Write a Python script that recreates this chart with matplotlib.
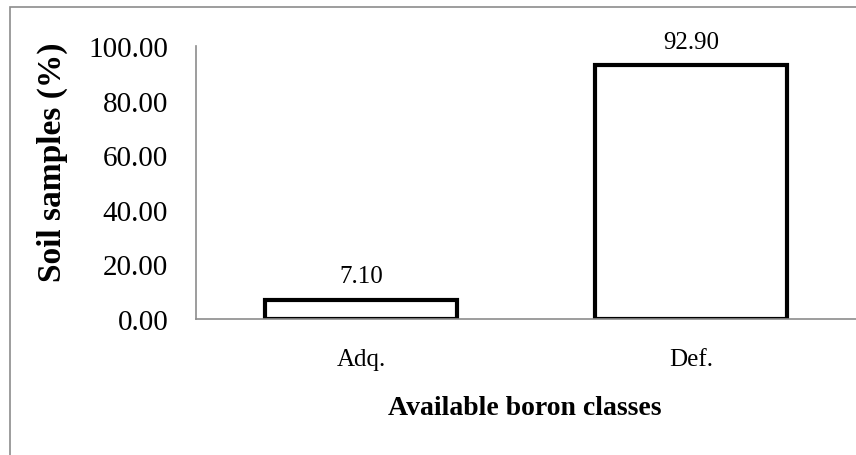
import matplotlib
matplotlib.use("Agg")
import matplotlib.pyplot as plt
from matplotlib.patches import Rectangle

categories = ["Adq.", "Def."]
values = [7.10, 92.90]
yticks = [0, 20, 40, 60, 80, 100]

plt.rcParams['font.family'] = ['Liberation Serif', 'DejaVu Serif']

W, H = 856, 456
fig = plt.figure(figsize=(W / 100, H / 100), dpi=100)
fig.patch.set_facecolor("white")

# outer chart border (gray, extends past right/bottom edge)
fig.patches.append(Rectangle((10 / W, -0.1), 1.2, 1 - 8 / H + 0.1,
                             transform=fig.transFigure, fill=False,
                             edgecolor="#8c8c8c", linewidth=1.2))

ax = fig.add_axes([196 / W, 1 - 320 / H, (856 - 196) / W, (320 - 47) / H])
x = list(range(len(categories)))
bars = ax.bar(x, values, width=0.58, color="white", edgecolor="black",
              linewidth=3.0)
ax.set_xlim(-0.5, len(categories) - 0.5)
ax.set_ylim(0, 100)
ax.set_yticks(yticks)
ax.set_yticklabels([f"{v:.2f}" for v in yticks], fontsize=21)
ax.set_xticks(x)
ax.set_xticklabels(categories, fontsize=18)
ax.tick_params(axis="y", length=0, pad=20)
ax.tick_params(axis="x", length=0, pad=21)
for s in ["top", "right"]:
    ax.spines[s].set_visible(False)
for s in ["left", "bottom"]:
    ax.spines[s].set_color("#8c8c8c")
    ax.spines[s].set_linewidth(1.2)

for xi, v in zip(x, values):
    ax.annotate(f"{v:.2f}", (xi, v), xytext=(0, 9), textcoords="offset points",
                ha="center", va="bottom", fontsize=18)

ax.set_ylabel("Soil samples (%)", fontsize=24, fontweight="bold")
ax.set_xlabel("Available boron classes", fontsize=20, fontweight="bold")
ax.xaxis.set_label_coords((525 - 196) / (856 - 196), -(396 - 320) / (320 - 47))
ax.yaxis.set_label_coords(-(196 - 68) / (856 - 196), (320 - 162.5) / (320 - 47))

fig.savefig("out.png", dpi=100)
